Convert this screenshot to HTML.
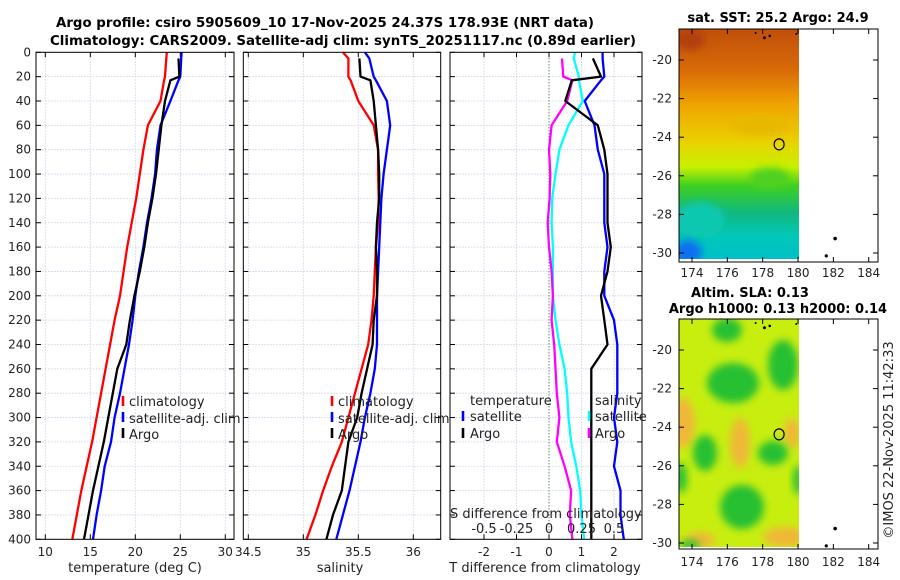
<!DOCTYPE html>
<html><head><meta charset="utf-8">
<style>
html,body{margin:0;padding:0;background:#fff;}
svg{display:block;font-family:"DejaVu Sans","Liberation Sans",sans-serif;}
</style></head>
<body>
<svg id="chart" width="900" height="580" viewBox="0 0 900 580" xmlns="http://www.w3.org/2000/svg">
<defs>
<linearGradient id="sstGrad" x1="0" y1="0" x2="0" y2="1">
<stop offset="0" stop-color="#c0500a"/><stop offset="0.18" stop-color="#d86a08"/>
<stop offset="0.33" stop-color="#f0a400"/><stop offset="0.5" stop-color="#e8d400"/>
<stop offset="0.6" stop-color="#c8f000"/><stop offset="0.68" stop-color="#40d020"/>
<stop offset="0.8" stop-color="#10b880"/><stop offset="0.9" stop-color="#00c8b8"/>
<stop offset="1" stop-color="#00c0c8"/></linearGradient>
<filter id="blur4" x="-50%" y="-50%" width="200%" height="200%"><feGaussianBlur stdDeviation="4"/></filter>
<clipPath id="clip1"><rect x="679" y="29" width="120" height="230"/></clipPath>
<clipPath id="clip2"><rect x="679" y="319" width="120" height="228"/></clipPath>
</defs>
<text x="325" y="27" font-size="13" font-weight="bold" text-anchor="middle" textLength="538" lengthAdjust="spacingAndGlyphs">Argo profile: csiro 5905609_10 17-Nov-2025 24.37S 178.93E (NRT data)</text>
<text x="343" y="45" font-size="13" font-weight="bold" text-anchor="middle" textLength="586" lengthAdjust="spacingAndGlyphs">Climatology: CARS2009. Satellite-adj clim: synTS_20251117.nc (0.89d earlier)</text>
<g id="plots"></g>
<g id="maps"></g>
</svg>
<script>
const pressures = [0,5,20,23,40,60,80,100,120,140,160,180,200,220,240,260,280,300,320,340,360,380,400];
const tempClim = [23.5,23.45,23.3,23.2,22.8,21.4,20.9,20.5,20.1,19.6,19.1,18.7,18.3,17.7,17.2,16.7,16.2,15.7,15.2,14.6,14.0,13.5,13.0];
const tempSat = [25.15,25.1,25.0,24.8,23.9,22.8,22.4,22.2,21.8,21.3,20.9,20.4,20.0,19.7,19.3,18.8,18.3,17.7,17.3,16.6,16.2,15.7,15.3];
const tempArgo = [null,24.8,24.9,23.9,23.3,22.9,22.6,22.3,21.9,21.4,21.0,20.5,19.9,19.4,19.0,18.0,17.5,17.0,16.5,15.9,15.3,14.8,14.3];
const salClim = [35.36,35.41,35.41,35.43,35.5,35.64,35.68,35.68,35.685,35.68,35.66,35.65,35.64,35.62,35.59,35.53,35.47,35.41,35.35,35.26,35.18,35.11,35.03];
const salSat = [35.56,35.6,35.64,35.66,35.76,35.79,35.76,35.73,35.71,35.70,35.69,35.68,35.67,35.67,35.67,35.65,35.61,35.56,35.52,35.47,35.42,35.36,35.30];
const salArgo = [null,35.51,35.52,35.61,35.64,35.66,35.68,35.69,35.69,35.67,35.66,35.67,35.67,35.64,35.63,35.58,35.53,35.49,35.41,35.38,35.35,35.27,35.21];
const yTicks = [0,20,40,60,80,100,120,140,160,180,200,220,240,260,280,300,320,340,360,380,400];
const tTicks = [10,15,20,25,30];
const sTicks = [34.5,35,35.5,36];
const dTTicks = [-2,-1,0,1,2];
const dSTicks = [-0.5,-0.25,0,0.25,0.5];
const dSLabels = ['-0.5','-0.25','0','0.25','0.5'];
const lonTicks = [174,176,178,180,182,184];
const latTicks = [-20,-22,-24,-26,-28,-30];
const argoLon = 178.93, argoLat = -24.37;

const NS='http://www.w3.org/2000/svg';
const plots=document.getElementById('plots');
const maps=document.getElementById('maps');
function mk(tag,attrs,parent){const e=document.createElementNS(NS,tag);for(const k in attrs)e.setAttribute(k,attrs[k]);(parent||plots).appendChild(e);return e;}
const yTop=52.3, yBot=539.3;
const yP=p=>yTop+(p/400)*(yBot-yTop);
const xT=t=>45.3+(t-10)*9;
const xS=s=>303.3+(s-35)*110;
const xD=d=>549+d*32.5;
const xDS=d=>549+d*4*32.5;

function panel(name,x0,x1,gridXs,zeroX){
  yTicks.forEach(p=>{const l=mk('line',{x1:x0,x2:x1,y1:yP(p),y2:yP(p),stroke:'#c8cce8','stroke-width':0.8,'stroke-dasharray':'1.5,1.5'});
    
    });
  gridXs.forEach(x=>{const l=mk('line',{x1:x,x2:x,y1:yTop,y2:yBot,stroke:'#c8cce8','stroke-width':0.8,'stroke-dasharray':'1.5,1.5'});
    
    });
  if(zeroX!==undefined){const z=mk('line',{x1:zeroX,x2:zeroX,y1:yTop,y2:yBot,stroke:'#336633','stroke-width':1,'stroke-dasharray':'1,2'});
    
    }
  yTicks.forEach(p=>{const y=yP(p);
    const a=mk('line',{x1:x0,x2:x0+5,y1:y,y2:y,stroke:'#000'});
    
    
    const b=mk('line',{x1:x1-5,x2:x1,y1:y,y2:y,stroke:'#000'});
    
    });
  gridXs.forEach(x=>{
    const a=mk('line',{x1:x,x2:x,y1:yBot,y2:yBot-5,stroke:'#000'});
    
    
    const b=mk('line',{x1:x,x2:x,y1:yTop,y2:yTop+5,stroke:'#000'});
    
    });
}
function frame(name,x0,x1){const r=mk('rect',{x:x0,y:yTop,width:x1-x0,height:yBot-yTop,fill:'none',stroke:'#000','stroke-width':1});
  
  }
function series(name,vals,xf,color){
  let d='';let started=false;
  vals.forEach((v,i)=>{if(v===null||v===undefined)return;d+=(started?'L':'M')+xf(v).toFixed(1)+','+yP(pressures[i]).toFixed(1);started=true;});
  const p=mk('path',{d:d,fill:'none',stroke:color,'stroke-width':2.3,'stroke-linejoin':'round'});
  
  
}
function txt(name,x,y,s,opts,parent){const t=mk('text',Object.assign({x:x,y:y,'font-size':12,fill:'#222'},opts||{}),parent);t.textContent=s;
  
  return t;}
function legendMark(name,x,y,color){const l=mk('line',{x1:x,x2:x,y1:y-11,y2:y-1,stroke:color,'stroke-width':2.6});
  
  }

panel('temp-panel',36,234,tTicks.map(xT));
series('temp-climatology-line',tempClim,xT,'#ff0000');
series('temp-satellite-line',tempSat,xT,'#0000ff');
series('temp-argo-line',tempArgo,xT,'#000000');
frame('temp-panel',36,234);
yTicks.forEach(p=>txt('y-tick-label',31,yP(p)+4,String(p),{'text-anchor':'end'}));
tTicks.forEach(t=>txt('temp-x-tick-label',xT(t),556,String(t),{'text-anchor':'middle'}));
txt('temp-x-axis-title',135,572,'temperature (deg C)',{'text-anchor':'middle','font-size':13});
legendMark('temp-legend-clim-marker',123,407,'#ff0000');
legendMark('temp-legend-sat-marker',123,423,'#0000ff');
legendMark('temp-legend-argo-marker',123,439,'#000');
txt('temp-legend-climatology',129,406,'climatology',{'font-size':13});
txt('temp-legend-satellite',129,423,'satellite-adj. clim',{'font-size':13});
txt('temp-legend-argo',129,439,'Argo',{'font-size':13});

panel('sal-panel',243.3,440.7,sTicks.map(xS));
series('sal-climatology-line',salClim,xS,'#ff0000');
series('sal-satellite-line',salSat,xS,'#0000ff');
series('sal-argo-line',salArgo,xS,'#000000');
frame('sal-panel',243.3,440.7);
sTicks.forEach(s=>txt('sal-x-tick-label',xS(s),556,String(s),{'text-anchor':'middle'}));
txt('sal-x-axis-title',340,572,'salinity',{'text-anchor':'middle','font-size':13});
legendMark('sal-legend-clim-marker',332,407,'#ff0000');
legendMark('sal-legend-sat-marker',332,423,'#0000ff');
legendMark('sal-legend-argo-marker',332,439,'#000');
txt('sal-legend-climatology',338,406,'climatology',{'font-size':13});
txt('sal-legend-satellite',338,423,'satellite-adj. clim',{'font-size':13});
txt('sal-legend-argo',338,439,'Argo',{'font-size':13});

const diff=(a,b)=>a.map((v,i)=>v===null?null:v-b[i]);
panel('diff-panel',450,642,dTTicks.map(xD),xD(0));
series('sal-diff-satellite-line',diff(salSat,salClim),xDS,'#00ffff');
series('sal-diff-argo-line',diff(salArgo,salClim),xDS,'#ff00ff');
series('temp-diff-satellite-line',diff(tempSat,tempClim),xD,'#0000ff');
series('temp-diff-argo-line',diff(tempArgo,tempClim),xD,'#000000');
frame('diff-panel',450,642);
dTTicks.forEach(t=>txt('temp-diff-x-tick-label',xD(t),556,String(t),{'text-anchor':'middle'}));
txt('temp-diff-x-axis-title',545,572,'T difference from climatology',{'text-anchor':'middle','font-size':13});
txt('sal-diff-axis-title',450,518,'S difference from climatology',{'font-size':13});
dSTicks.forEach((t,i)=>txt('sal-diff-tick-label',xDS(t),533,dSLabels[i],{'text-anchor':'middle','font-size':13}));
txt('diff-legend-temperature',470,405,'temperature',{'font-size':13});
legendMark('diff-legend-temp-sat-marker',463,422,'#0000ff');
legendMark('diff-legend-temp-argo-marker',463,439,'#000');
txt('diff-legend-temp-satellite',470,421,'satellite',{'font-size':13});
txt('diff-legend-temp-argo',470,438,'Argo',{'font-size':13});
txt('diff-legend-salinity',595,405,'salinity',{'font-size':13});
legendMark('diff-legend-sal-sat-marker',589,422,'#00ffff');
legendMark('diff-legend-sal-argo-marker',589,439,'#ff00ff');
txt('diff-legend-sal-satellite',595,421,'satellite',{'font-size':13});
txt('diff-legend-sal-argo',595,438,'Argo',{'font-size':13});

const xLon=l=>692+(l-174)*17.67;
function mapAxes(name,boxTop,boxBot,lat20y,labelY){
  const yLat=l=>lat20y+(-20-l)*19.3;
  const r=mk('rect',{x:679,y:boxTop,width:199,height:boxBot-boxTop,fill:'none',stroke:'#000'},maps);
  
  
  latTicks.forEach(l=>{const y=yLat(l);
    const a=mk('line',{x1:679,x2:684,y1:y,y2:y,stroke:'#000'},maps);
    
    
    const b=mk('line',{x1:873,x2:878,y1:y,y2:y,stroke:'#000'},maps);
    
    
    txt(name+'-lat-label',672,y+4,String(l),{'text-anchor':'end'},maps);});
  lonTicks.forEach(l=>{const x=xLon(l);
    const a=mk('line',{x1:x,x2:x,y1:boxBot,y2:boxBot-5,stroke:'#000'},maps);
    
    
    const b=mk('line',{x1:x,x2:x,y1:boxTop,y2:boxTop+5,stroke:'#000'},maps);
    
    
    txt(name+'-lon-label',x,labelY,String(l),{'text-anchor':'middle'},maps);});
  const c=mk('ellipse',{cx:xLon(argoLon),cy:yLat(argoLat),rx:5,ry:5.5,fill:'none',stroke:'#000','stroke-width':1.2},maps);
  
  
  [[182.1,-29.25,1.8],[181.6,-30.15,1.6],[178.1,-18.85,1.5],[178.4,-18.75,1.3],[179.9,-18.65,1],[177.6,-18.6,1]].forEach(p=>{
    const d=mk('circle',{cx:xLon(p[0]),cy:yLat(p[1]),r:p[2],fill:'#000'},maps);
    
    });
}
const g1=mk('g',{'clip-path':'url(#clip1)'},maps);


mk('rect',{x:679,y:29,width:120,height:230,fill:'url(#sstGrad)'},g1);
mk('ellipse',{cx:700,cy:220,rx:25,ry:18,fill:'#10c8b0',filter:'url(#blur4)'},g1);
mk('ellipse',{cx:688,cy:252,rx:14,ry:12,fill:'#1070f0',filter:'url(#blur4)'},g1);
mk('ellipse',{cx:690,cy:40,rx:15,ry:10,fill:'#b04008',filter:'url(#blur4)'},g1);
mk('ellipse',{cx:770,cy:178,rx:20,ry:10,fill:'#50d020',filter:'url(#blur4)'},g1);
mk('ellipse',{cx:760,cy:125,rx:30,ry:10,fill:'#e8b800',filter:'url(#blur4)'},g1);
mapAxes('sst-map',29,262,60,277);
txt('sst-map-title',778,22,'sat. SST: 25.2 Argo: 24.9',{'text-anchor':'middle','font-size':13,'font-weight':'bold',fill:'#000'},maps);

const g2=mk('g',{'clip-path':'url(#clip2)'},maps);


mk('rect',{x:679,y:319,width:120,height:228,fill:'#c8ee10'},g2);
[[683,423,12,25],[740,443,10,25],[785,537,22,10],[792,433,8,15],[700,540,15,8]].forEach(b=>mk('ellipse',{cx:b[0],cy:b[1],rx:b[2],ry:b[3],fill:'#f0b838',filter:'url(#blur4)'},g2));
[[727,330,15,12],[733,383,26,20],[783,365,15,25],[705,453,12,18],[773,453,15,12],[742,507,22,22],[681,478,6,15],[798,480,5,15],[690,545,10,5]].forEach(b=>mk('ellipse',{cx:b[0],cy:b[1],rx:b[2],ry:b[3],fill:'#28c030',filter:'url(#blur4)'},g2));
mapAxes('sla-map',319,549,350,566);
txt('sla-map-title-1',750,297,'Altim. SLA: 0.13',{'text-anchor':'middle','font-size':13,'font-weight':'bold',fill:'#000'},maps);
txt('sla-map-title-2',778,313,'Argo h1000: 0.13 h2000: 0.14',{'text-anchor':'middle','font-size':13,'font-weight':'bold',fill:'#000'},maps);
txt('copyright-timestamp',0,0,'\u00a9IMOS 22-Nov-2025 11:42:33',{'text-anchor':'middle','font-size':13,transform:'translate(893,440) rotate(-90)'},maps);
</script>
</body></html>
